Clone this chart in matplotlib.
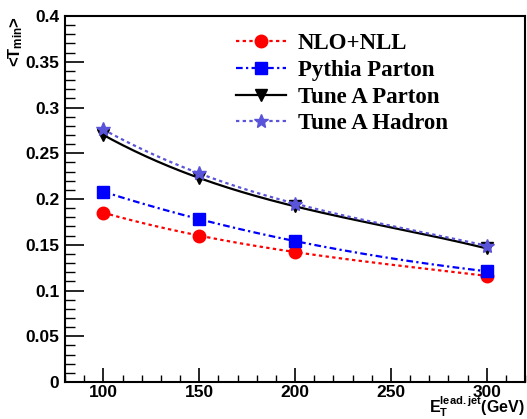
import numpy as np
import matplotlib
matplotlib.use("Agg")
import matplotlib.pyplot as plt
from matplotlib.ticker import MultipleLocator

et = [100, 150, 200, 300]
nlo_nll = [0.185, 0.160, 0.142, 0.116]
pythia_parton = [0.208, 0.178, 0.154, 0.121]
tunea_parton = [0.270, 0.223, 0.192, 0.146]
tunea_hadron = [0.276, 0.228, 0.195, 0.149]

series = [
    ("NLO+NLL", nlo_nll, "#ff0000", (0, (1.5, 1.5)), "o", 9),
    ("Pythia Parton", pythia_parton, "#0000ff", (0, (3, 1.5, 1, 1.5)), "s", 9),
    ("Tune A Parton", tunea_parton, "#000000", "-", "v", 8),
    ("Tune A Hadron", tunea_hadron, "#5954d9", (0, (1.5, 1.5)), "*", 10),
]

plt.rcParams["mathtext.fontset"] = "custom"
plt.rcParams["mathtext.rm"] = "Liberation Sans:bold"
plt.rcParams["mathtext.it"] = "Liberation Sans:bold"
plt.rcParams["mathtext.bf"] = "Liberation Sans:bold"

fig = plt.figure(figsize=(5.27, 4.19), dpi=100)
ax = fig.add_axes([65/527, 1-382/419, (525-65)/527, (382-16)/419])

for name, ys, col, ls, mk, ms in series:
    coef = np.polyfit(et, ys, 3)
    xs = np.linspace(et[0], et[-1], 200)
    ax.plot(xs, np.polyval(coef, xs), color=col, ls=ls, lw=1.6)
    ax.plot(et, ys, ls="none", marker=mk, color=col, ms=ms, mec=col)
    ax.plot([], [], color=col, ls=ls, lw=1.6, marker=mk, ms=ms, label=name)

ax.set_xlim(80, 320)
ax.set_ylim(0, 0.4)
ax.xaxis.set_major_locator(MultipleLocator(50))
ax.xaxis.set_minor_locator(MultipleLocator(10))
ax.yaxis.set_minor_locator(MultipleLocator(0.01))
ax.set_yticks([0, 0.05, 0.1, 0.15, 0.2, 0.25, 0.3, 0.35, 0.4])
ax.set_yticklabels(["0", "0.05", "0.1", "0.15", "0.2", "0.25", "0.3", "0.35", "0.4"])
ax.tick_params(which="major", direction="in", length=10, width=1.2, labelsize=12.5, pad=2)
ax.tick_params(axis="y", which="major", length=14, pad=4)
ax.tick_params(which="minor", direction="in", length=5, width=1)
ax.tick_params(axis="y", which="minor", length=7)
for lab in ax.get_xticklabels() + ax.get_yticklabels():
    lab.set_fontweight("bold")
    lab.set_family("Liberation Sans")
for s in ax.spines.values():
    s.set_linewidth(1.5)

fig.text(16/527, 1-42/419, r"<T$_{\mathrm{min}}$>", rotation=90, ha="center", va="center",
         fontsize=12, fontweight="bold", family="Liberation Sans")
fig.text(525/527, 1-407/419, r"E$_{\mathrm{T}}^{\mathrm{lead.jet}}$(GeV)", ha="right", va="center",
         fontsize=11.5, fontweight="bold", family="Liberation Sans")

leg = ax.legend(loc="upper left", bbox_to_anchor=(236/527, 1-33/419), bbox_transform=fig.transFigure,
                frameon=False, prop={"family": "Liberation Serif", "weight": "bold", "size": 16.5},
                handlelength=2.2, handletextpad=0.5, labelspacing=0.25, borderaxespad=0,
                borderpad=0)

fig.savefig("out.png", dpi=100)
